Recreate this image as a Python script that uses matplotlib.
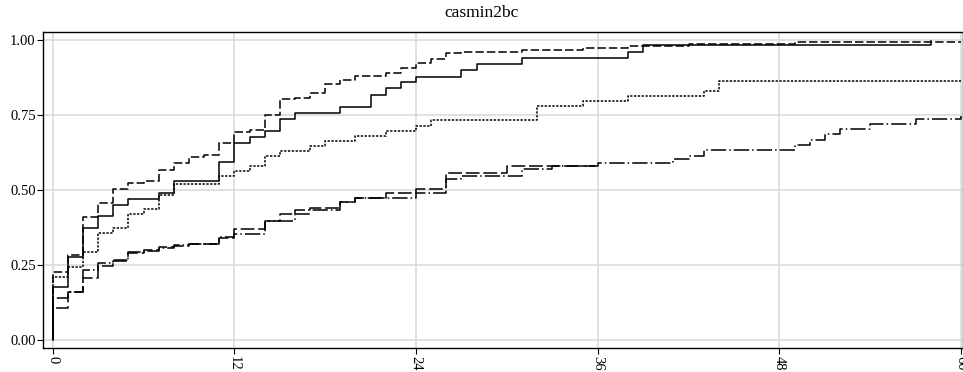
import numpy as np
import matplotlib
matplotlib.use('Agg')
import matplotlib.pyplot as plt

# cumulative failure curves, step times in months
t_solid = [0, 1, 2, 3, 4, 5, 7, 8, 11, 12, 13, 14, 15, 16, 19, 21, 22, 23, 24, 27, 28, 31, 38, 39, 58]
v_solid = [.178, .278, .372, .413, .45, .47, .49, .531, .594, .655, .677, .695, .737, .757, .778,
           .817, .839, .859, .878, .90, .92, .94, .959, .982, .997]
end_solid = 58

t_dash = [0, 1, 2, 3, 4, 5, 6, 7, 8, 9, 10, 11, 12, 13, 14, 15, 16, 17, 18, 19, 20, 22, 23, 24,
          25, 26, 27, 31, 35, 38, 42, 49]
v_dash = [.228, .283, .409, .456, .503, .524, .53, .567, .591, .609, .617, .658, .694, .70, .751,
          .803, .808, .822, .855, .867, .881, .889, .908, .922, .936, .956, .961, .967, .974,
          .981, .987, .994]
end_dash = 60

t_dot = [0, 1, 2, 3, 4, 5, 6, 7, 8, 11, 12, 13, 14, 15, 17, 18, 20, 22, 24, 25, 32, 35, 38, 43, 44]
v_dot = [.211, .244, .292, .356, .372, .42, .436, .483, .519, .547, .563, .581, .613, .629, .647,
         .663, .68, .698, .713, .733, .78, .798, .813, .831, .865]
end_dot = 60

t_dashdot = [0, 1, 2, 3, 4, 5, 6, 7, 8, 9, 11, 12, 14, 16, 19, 20, 24, 26, 27, 31, 33, 36, 41, 42,
             43, 49, 50, 51, 52, 54, 57, 60]
v_dashdot = [.139, .161, .233, .256, .262, .294, .297, .305, .317, .32, .342, .353, .398, .433,
             .459, .474, .489, .536, .547, .569, .58, .591, .602, .613, .633, .65, .667, .686,
             .702, .72, .737, .747]
end_dashdot = 60

t_long = [0, 1, 2, 3, 4, 5, 6, 7, 8, 9, 11, 12, 14, 15, 17, 19, 20, 22, 24, 26, 30]
v_long = [.106, .161, .206, .247, .267, .29, .30, .309, .313, .32, .339, .369, .395, .419, .44,
          .459, .474, .489, .502, .558, .581]
end_long = 36

x_ticks = [0, 12, 24, 36, 48, 60]
y_ticks = [0.0, 0.25, 0.5, 0.75, 1.0]

plt.rcParams['font.family'] = ['Liberation Serif', 'DejaVu Serif']

fig = plt.figure(figsize=(9.63, 3.72), dpi=100)
ax = fig.add_axes([0.045, 0.0645, 0.955, 0.8505])


def km_step(t, v, t_end, style):
    tt = np.r_[0, t, t_end]
    vv = np.r_[0, v, v[-1]]
    ax.step(tt, vv, where='post', color='black', lw=1.1, linestyle=style)


km_step(t_long, v_long, end_long, (0, (9, 2.5)))
km_step(t_dashdot, v_dashdot, end_dashdot, (0, (10, 2, 1, 2)))
km_step(t_dot, v_dot, end_dot, (0, (1.5, 1)))
km_step(t_dash, v_dash, end_dash, (0, (5.5, 2)))
km_step(t_solid, v_solid, end_solid, '-')

ax.set_xlim(-0.62, 60.13)
ax.set_ylim(-0.027, 1.028)
ax.set_xticks(x_ticks)
ax.set_yticks(y_ticks)
ax.set_xticklabels([str(x) for x in x_ticks], rotation=270)
ax.set_yticklabels(['%.2f' % y for y in y_ticks])
ax.tick_params(labelsize=10.5, length=4, width=0.8, pad=1.5)
ax.grid(True, color='#d9d9d9', lw=1.1)
ax.set_axisbelow(True)
for s in ax.spines.values():
    s.set_linewidth(1.0)

fig.text(0.5, 0.965, 'casmin2bc', ha='center', va='center', fontsize=12.5)

fig.savefig('out.png', dpi=100)
